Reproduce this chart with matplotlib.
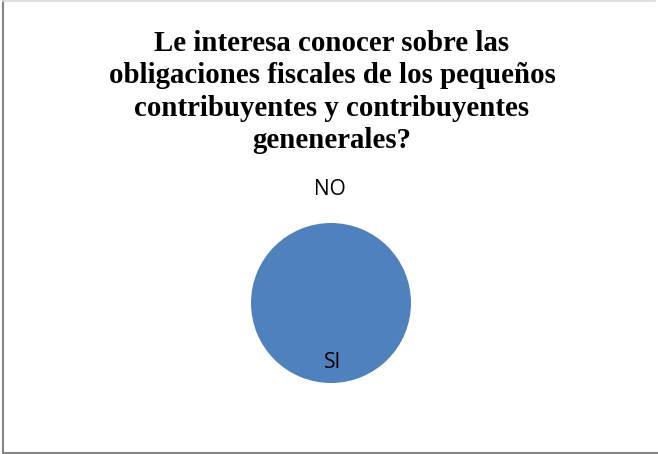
import matplotlib
matplotlib.use("Agg")
import matplotlib.pyplot as plt
from matplotlib.lines import Line2D

# survey answers (SI first, as in the sheet)
labels = ["SI", "NO"]
values = [100, 0]
colors = ["#4F81BD", "#C0504D"]
title = ("Le interesa conocer sobre las\n"
         "obligaciones fiscales de los pequeños\n"
         "contribuyentes y contribuyentes\n"
         "genenerales?")

W, H = 658, 454
fig = plt.figure(figsize=(W / 100, H / 100), dpi=100)

# chart frame: darker on left/bottom, faint along the top, none on the right
fig.lines.append(Line2D([2.5 / W, 2.5 / W], [1.5 / H, 1 - 0.5 / H],
                        transform=fig.transFigure, color="#868686", lw=1.5))
fig.lines.append(Line2D([2.5 / W, 1], [1.5 / H, 1.5 / H],
                        transform=fig.transFigure, color="#868686", lw=1.5))
fig.lines.append(Line2D([2.5 / W, 655 / W], [1 - 0.5 / H, 1 - 0.5 / H],
                        transform=fig.transFigure, color="#d9d9d9", lw=1.2))

fig.text(332 / W, 1 - 30 / H, title, ha="center", va="top",
         family="Liberation Serif", fontweight="bold", fontsize=20.8,
         linespacing=1.26)

r = 80
ax = fig.add_axes([(331 - r) / W, (H - 303 - r) / H, 2 * r / W, 2 * r / H])
wedges, texts = ax.pie(values, labels=labels, colors=colors, startangle=90,
                       counterclock=False, labeldistance=1.1,
                       textprops=dict(family="Open Sans", fontsize=15))
ax.set_xlim(-1, 1)
ax.set_ylim(-1, 1)

# excel-style label spots: inside for the full slice, above for the empty one
spots = {"SI": (0.02, -0.74), "NO": (-0.02, 1.42)}
for t in texts:
    t.set_position(spots[t.get_text()])
    t.set_ha("center")
    t.set_va("center")

fig.savefig("out.png", dpi=100)
